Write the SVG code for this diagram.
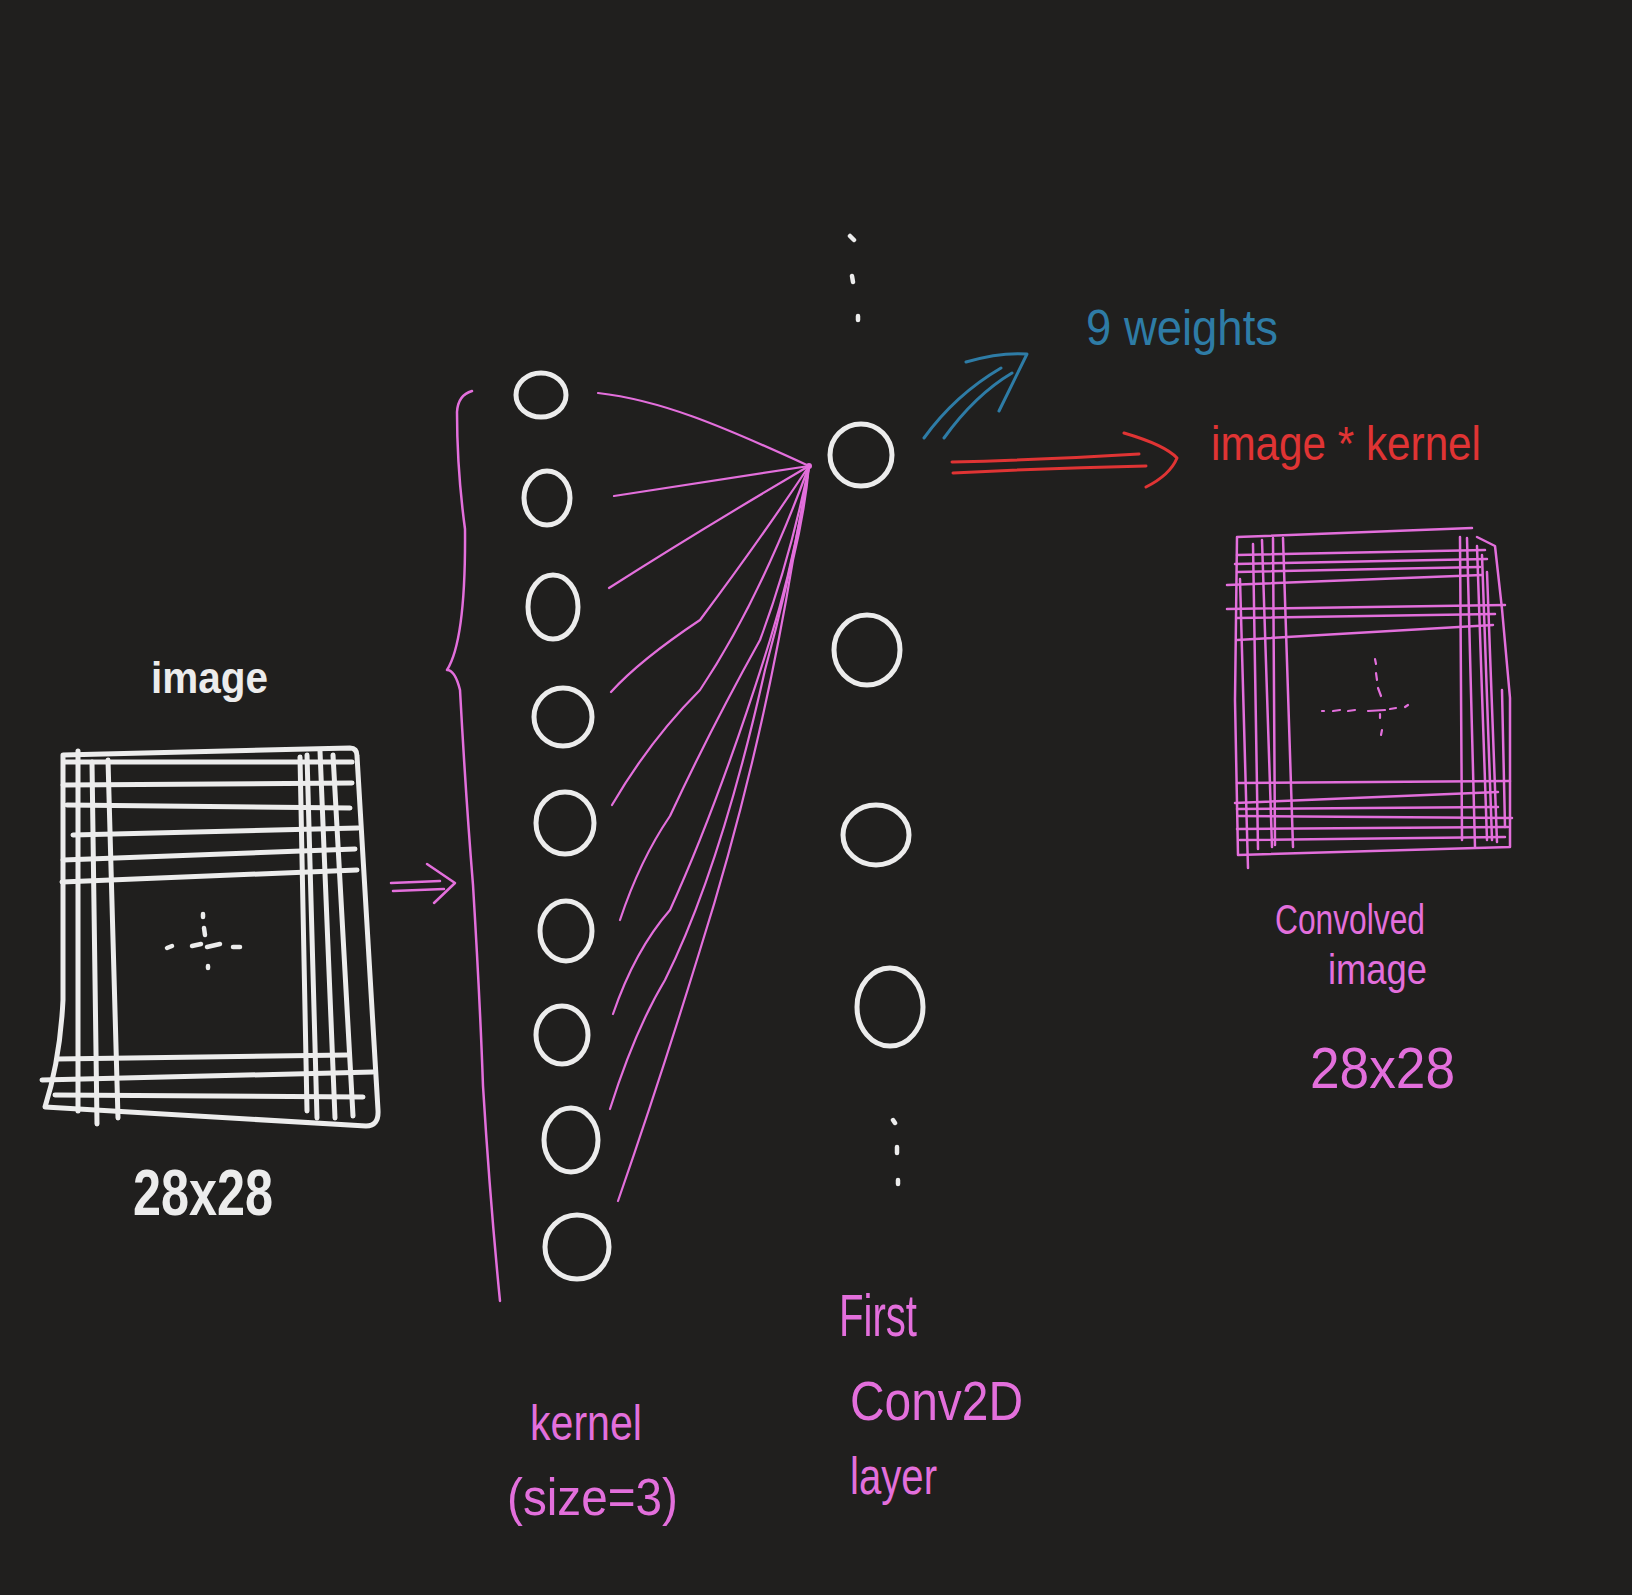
<svg xmlns="http://www.w3.org/2000/svg" width="1632" height="1595" viewBox="0 0 1632 1595">
<style>
.w{fill:none;stroke:#ececec;stroke-width:5;stroke-linecap:round;stroke-linejoin:round}
.wn{fill:none;stroke:#ececec;stroke-width:4.5;stroke-linecap:round}
.p{fill:none;stroke:#e36fdc;stroke-width:2.5;stroke-linecap:round;stroke-linejoin:round}
.pc{fill:none;stroke:#e36fdc;stroke-width:2.2;stroke-linecap:round;stroke-linejoin:round}
.b{fill:none;stroke:#2e7ca6;stroke-width:3;stroke-linecap:round;stroke-linejoin:round}
.r{fill:none;stroke:#e03434;stroke-width:3;stroke-linecap:round;stroke-linejoin:round}
.t{font-family:"Liberation Sans","DejaVu Sans",sans-serif}
.tw{fill:#ececec;font-weight:bold}
.tp{fill:#e36fdc}
.tb{fill:#2e7ca6}
.tr{fill:#e03434}
</style>
<rect width="1632" height="1595" fill="#201f1e"/>

<g id="input-image">
  <path class="w" d="M63 755 L350 748 Q357 748 357 756 L378 1110 Q379 1126 366 1126 L45 1107 Q60 1060 63 1000 L63 755"/>
  <path class="w" d="M65 762 L352 762 M63 785 L352 783 M67 805 L350 808 M73 835 L358 828 M63 860 L355 849 M62 882 L357 870"/>
  <path class="w" d="M57 1059 L347 1055 M42 1080 L373 1072 M55 1095 L363 1097"/>
  <path class="w" d="M78 751 L78 1111 M92 762 L97 1124 M108 760 L118 1118"/>
  <path class="w" d="M300 757 L307 1111 M307 755 L317 1118 M320 751 L335 1118 M333 755 L353 1116"/>
  <path class="wn" d="M167 948 L172 946 M192 946 L201 944 M207 947 L220 944 M233 947 L240 947 M203 914 L203 917 M204 928 L205 935 M208 966 L208 968"/>
  <text class="t tw" x="151" y="693" font-size="44" textLength="117" lengthAdjust="spacingAndGlyphs">image</text>
  <text class="t tw" x="133" y="1215" font-size="64" textLength="140" lengthAdjust="spacingAndGlyphs">28x28</text>
</g>

<g id="kernel">
  <path class="p" d="M472 391 Q458 395 457 412 Q457 470 465 529 Q466 640 447 670 Q455 670 460 690 Q466 800 473 885 Q480 1000 483 1086 Q490 1200 500 1301"/>
  <g class="w">
    <ellipse cx="541" cy="395" rx="25" ry="22"/>
    <ellipse cx="547" cy="498" rx="23" ry="27"/>
    <ellipse cx="553" cy="607" rx="25" ry="32"/>
    <ellipse cx="563" cy="717" rx="29" ry="29"/>
    <ellipse cx="565" cy="823" rx="29" ry="31"/>
    <ellipse cx="566" cy="931" rx="26" ry="30"/>
    <ellipse cx="562" cy="1035" rx="26" ry="29"/>
    <ellipse cx="571" cy="1140" rx="27" ry="32"/>
    <ellipse cx="577" cy="1247" rx="32" ry="32"/>
  </g>
  <text class="t tp" x="530" y="1440" font-size="50" textLength="112" lengthAdjust="spacingAndGlyphs">kernel</text>
  <text class="t tp" x="507" y="1515" font-size="52" textLength="171" lengthAdjust="spacingAndGlyphs">(size=3)</text>
</g>

<g id="conv2d-layer">
  <g class="w">
    <ellipse cx="861" cy="455" rx="31" ry="31"/>
    <ellipse cx="867" cy="650" rx="33" ry="35"/>
    <ellipse cx="876" cy="835" rx="33" ry="30"/>
    <ellipse cx="890" cy="1007" rx="33" ry="39"/>
  </g>
  <path class="wn" d="M850 236 L854 240 M852 276 L853 282 M858 316 L858 320 M893 1120 L895 1123 M897 1147 L897 1153 M898 1180 L898 1184"/>
  <text class="t tp" x="839" y="1336" font-size="60" textLength="78" lengthAdjust="spacingAndGlyphs">First</text>
  <text class="t tp" x="850" y="1420" font-size="56" textLength="173" lengthAdjust="spacingAndGlyphs">Conv2D</text>
  <text class="t tp" x="850" y="1494" font-size="52" textLength="87" lengthAdjust="spacingAndGlyphs">layer</text>
</g>

<g id="weights-label">
  <text class="t tb" x="1086" y="345" font-size="50" textLength="192" lengthAdjust="spacingAndGlyphs">9 weights</text>
</g>

<g id="result-label">
  <text class="t tr" x="1211" y="460" font-size="48" textLength="270" lengthAdjust="spacingAndGlyphs">image * kernel</text>
</g>

<g id="convolved-image">
  <path class="p" d="M1237 537 L1472 528 M1237 537 L1235 700 L1238 855 L1510 847 L1510 698 L1502 609 L1495 546 L1477 537"/>
  <path class="p" d="M1237 555 L1485 550 M1235 564 L1487 559 M1237 572 L1480 567 M1227 585 L1482 575 M1227 609 L1505 605 M1237 618 L1495 614 M1237 640 L1493 625"/>
  <path class="p" d="M1237 783 L1510 781 M1235 803 L1498 792 M1237 809 L1498 807 M1238 816 L1512 818 M1237 829 L1508 827 M1240 840 L1505 837"/>
  <path class="p" d="M1240 579 L1248 868 M1253 544 L1258 849 M1262 540 L1272 847 M1273 538 L1275 845 M1283 538 L1293 847"/>
  <path class="p" d="M1460 537 L1462 840 M1467 538 L1475 847 M1477 546 L1487 840 M1482 555 L1492 840 M1487 572 L1497 842 M1502 690 L1505 827"/>
  <path class="pc" d="M1322 711 L1324 711 M1333 711 L1340 710 M1348 711 L1355 710 M1368 711 L1385 710 M1390 709 L1396 708 M1405 707 L1408 705 M1375 659 L1376 664 M1376 673 L1377 680 M1378 688 L1381 696 M1380 714 L1380 718 M1382 730 L1381 735"/>
  <text class="t tp" x="1275" y="934" font-size="42" textLength="150" lengthAdjust="spacingAndGlyphs">Convolved</text>
  <text class="t tp" x="1328" y="984" font-size="42" textLength="99" lengthAdjust="spacingAndGlyphs">image</text>
  <text class="t tp" x="1310" y="1088" font-size="58" textLength="145" lengthAdjust="spacingAndGlyphs">28x28</text>
</g>

<g id="connectors">
  <path class="p" d="M391 883 L440 881 M393 891 L444 889 M427 864 L455 883 L434 903"/>
  <path class="pc" d="M598 393 C660 400 720 425 809 466"/>
  <path class="pc" d="M614 496 Q720 480 809 466"/>
  <path class="pc" d="M609 588 Q700 530 809 466"/>
  <path class="pc" d="M611 692 Q640 660 700 620 Q760 540 809 466"/>
  <path class="pc" d="M612 805 Q650 740 700 690 Q760 600 809 466"/>
  <path class="pc" d="M620 920 Q640 860 670 816 Q710 730 760 640 Q790 560 809 466"/>
  <path class="pc" d="M613 1014 Q635 950 670 910 Q720 800 770 640 Q795 560 809 466"/>
  <path class="pc" d="M610 1109 Q635 1030 665 980 Q720 870 765 670 Q795 560 809 466"/>
  <path class="pc" d="M618 1201 Q660 1080 700 950 Q760 760 793 560 Q805 510 809 466"/>
  <circle cx="809" cy="466" r="3" fill="#e36fdc"/>
  <path class="b" d="M924 438 Q955 395 1001 368 M944 438 Q975 395 1012 373 M966 362 Q1000 352 1027 354 L999 411"/>
  <path class="r" d="M952 462 Q1040 460 1139 454 M953 473 Q1050 468 1146 466 M1124 433 Q1165 445 1177 458 Q1170 475 1146 487"/>
</g>
</svg>
